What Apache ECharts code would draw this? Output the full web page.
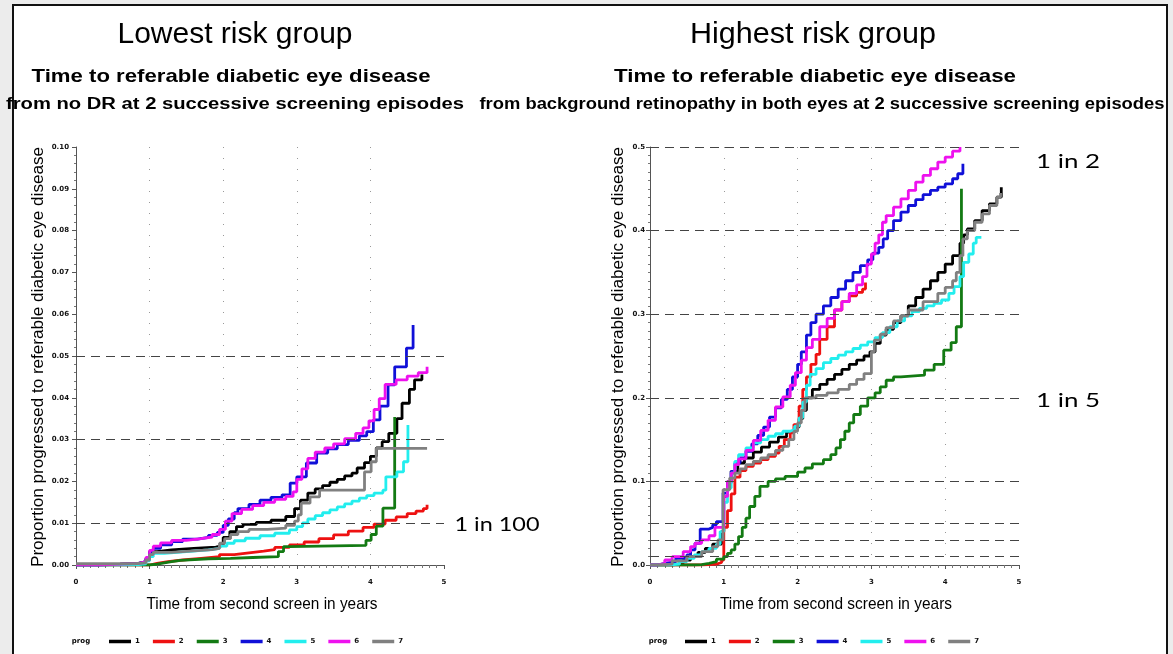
<!DOCTYPE html>
<html>
<head>
<meta charset="utf-8">
<title>Time to referable diabetic eye disease</title>
<script src="https://cdn.jsdelivr.net/npm/echarts@6/dist/echarts.min.js"></script>
<style>
  html, body { margin: 0; padding: 0; background: #ececec; }
  #main { width: 1173px; height: 654px; }
</style>
</head>
<body>
<div id="main"></div>
<script>
// ---- data (time in years, cumulative proportion) ----
var progNames = ['1', '2', '3', '4', '5', '6', '7'];
var progColors = ['#000000', '#ee1111', '#137a13', '#1010d8', '#22eeee', '#ee11ee', '#808080'];

// lowest risk group (no DR at 2 screens)
var low1 = [[0,0],[0.3,0.0002],[0.6,0.0004],[0.85,0.0008],[0.95,0.0015],[1.0,0.0032],[1.1,0.0036],[1.3,0.004],[1.6,0.0043],[1.9,0.0047],[2.0,0.0066],[2.09,0.008],[2.18,0.0092],[2.27,0.0097],[2.45,0.0102],[2.65,0.0107],[2.85,0.0116],[2.97,0.0135],[3.05,0.0155],[3.15,0.0172],[3.25,0.0182],[3.35,0.019],[3.45,0.0198],[3.55,0.0205],[3.65,0.0213],[3.75,0.022],[3.82,0.0232],[3.92,0.0245],[4.0,0.026],[4.08,0.028],[4.16,0.0295],[4.25,0.0315],[4.36,0.035],[4.43,0.0387],[4.53,0.042],[4.6,0.0443],[4.7,0.0456]];
var low2 = [[0,0],[1.0,0.0004],[1.1,0.0008],[1.25,0.0012],[1.45,0.0016],[1.7,0.002],[1.95,0.0025],[2.15,0.0029],[2.35,0.0033],[2.55,0.0037],[2.7,0.0042],[2.9,0.0048],[3.1,0.0055],[3.3,0.0063],[3.5,0.0072],[3.7,0.0081],[3.9,0.009],[4.05,0.0098],[4.2,0.0107],[4.35,0.0115],[4.5,0.0123],[4.62,0.0129],[4.72,0.0135],[4.77,0.0144]];
var low3 = [[0,0],[1.0,0.0002],[1.1,0.0005],[1.2,0.0008],[1.3,0.0011],[1.42,0.0015],[1.8,0.0016],[2.1,0.0018],[2.4,0.002],[2.75,0.0032],[2.82,0.0044],[2.9,0.0047],[3.94,0.0059],[4.01,0.0073],[4.08,0.0093],[4.17,0.0136],[4.33,0.0354]];
var low4 = [[0,0],[0.3,0.0002],[0.6,0.0004],[0.85,0.0008],[0.95,0.0015],[1.0,0.003],[1.05,0.004],[1.15,0.0048],[1.3,0.0056],[1.45,0.0062],[1.65,0.0066],[1.8,0.0071],[1.92,0.0078],[2.0,0.0095],[2.07,0.011],[2.15,0.0125],[2.2,0.0135],[2.35,0.0145],[2.5,0.0155],[2.65,0.0162],[2.8,0.0168],[2.91,0.0196],[3.0,0.0211],[3.13,0.0244],[3.27,0.0268],[3.42,0.0278],[3.55,0.0288],[3.7,0.0298],[3.85,0.0309],[3.95,0.0319],[4.04,0.0347],[4.13,0.038],[4.24,0.0431],[4.33,0.0474],[4.49,0.0519],[4.58,0.0574]];
var low5 = [[0,0],[0.5,0.0001],[0.85,0.0003],[0.95,0.001],[1.0,0.002],[1.05,0.0028],[1.2,0.0032],[1.5,0.0036],[1.8,0.004],[1.95,0.0045],[2.05,0.0052],[2.15,0.0058],[2.3,0.0064],[2.5,0.007],[2.7,0.0076],[2.9,0.0084],[3.0,0.0092],[3.08,0.0101],[3.15,0.011],[3.25,0.0118],[3.35,0.0125],[3.45,0.0132],[3.55,0.0139],[3.65,0.0146],[3.75,0.0153],[3.85,0.016],[3.95,0.0166],[4.05,0.0172],[4.17,0.0179],[4.21,0.0211],[4.36,0.0223],[4.45,0.0247],[4.51,0.0335]];
var low6 = [[0,0],[0.3,0.0002],[0.6,0.0004],[0.85,0.0008],[0.95,0.0018],[1.0,0.0035],[1.05,0.0045],[1.15,0.0053],[1.3,0.0059],[1.5,0.0063],[1.7,0.0067],[1.85,0.0073],[1.95,0.0085],[2.03,0.0105],[2.12,0.0123],[2.25,0.0133],[2.4,0.0142],[2.55,0.015],[2.7,0.0157],[2.85,0.0164],[2.95,0.0175],[3.0,0.0205],[3.07,0.023],[3.15,0.0255],[3.25,0.027],[3.38,0.028],[3.5,0.029],[3.65,0.0302],[3.8,0.0315],[3.9,0.0328],[3.98,0.0345],[4.05,0.0372],[4.12,0.0398],[4.2,0.0432],[4.35,0.0443],[4.5,0.0452],[4.65,0.046],[4.77,0.0474]];
var low7 = [[0,0.0003],[0.8,0.0005],[0.95,0.0012],[1.0,0.0025],[1.05,0.003],[1.3,0.0034],[1.6,0.0037],[1.85,0.004],[1.95,0.0052],[2.02,0.0063],[2.1,0.0073],[2.2,0.008],[2.35,0.0085],[2.6,0.0088],[2.85,0.0095],[2.97,0.0105],[3.02,0.012],[3.06,0.0148],[3.18,0.0163],[3.31,0.0179],[3.92,0.0223],[4.01,0.0247],[4.08,0.0279],[4.77,0.028]];

// highest risk group (background DR in both eyes at 2 screens)
var high1 = [[0,0],[0.3,0.002],[0.45,0.006],[0.55,0.01],[0.65,0.015],[0.75,0.02],[0.85,0.025],[0.97,0.04],[1.0,0.082],[1.05,0.1],[1.1,0.112],[1.19,0.122],[1.28,0.128],[1.4,0.135],[1.51,0.141],[1.62,0.147],[1.74,0.153],[1.85,0.159],[1.96,0.165],[2.02,0.175],[2.07,0.185],[2.12,0.2],[2.2,0.21],[2.3,0.216],[2.4,0.222],[2.5,0.228],[2.6,0.234],[2.7,0.24],[2.8,0.245],[2.9,0.25],[2.98,0.255],[3.05,0.265],[3.12,0.275],[3.2,0.282],[3.3,0.29],[3.4,0.298],[3.5,0.31],[3.6,0.32],[3.7,0.33],[3.8,0.34],[3.9,0.35],[4.0,0.36],[4.1,0.37],[4.2,0.385],[4.25,0.395],[4.3,0.402],[4.4,0.412],[4.5,0.424],[4.6,0.432],[4.7,0.44],[4.76,0.452]];
var high2 = [[0,0],[0.7,0.001],[0.9,0.003],[0.97,0.006],[1.0,0.045],[1.05,0.065],[1.1,0.085],[1.15,0.105],[1.22,0.113],[1.3,0.118],[1.4,0.122],[1.5,0.126],[1.6,0.13],[1.7,0.134],[1.75,0.142],[1.82,0.15],[1.9,0.158],[1.95,0.168],[2.02,0.19],[2.07,0.21],[2.12,0.225],[2.18,0.24],[2.25,0.252],[2.3,0.27],[2.4,0.285],[2.5,0.305],[2.6,0.315],[2.7,0.322],[2.8,0.326],[2.88,0.33],[2.92,0.338]];
var high3 = [[0,0],[0.6,0.0005],[0.7,0.002],[0.8,0.004],[0.9,0.007],[1.0,0.01],[1.05,0.014],[1.1,0.018],[1.15,0.025],[1.2,0.034],[1.25,0.045],[1.3,0.056],[1.35,0.07],[1.42,0.082],[1.49,0.094],[1.6,0.1],[1.7,0.103],[1.83,0.106],[2.0,0.111],[2.1,0.116],[2.2,0.121],[2.35,0.126],[2.45,0.132],[2.52,0.14],[2.58,0.15],[2.64,0.16],[2.7,0.17],[2.76,0.18],[2.85,0.19],[2.95,0.2],[3.05,0.206],[3.12,0.213],[3.2,0.221],[3.3,0.225],[3.4,0.227],[3.72,0.233],[3.85,0.24],[3.98,0.257],[4.08,0.266],[4.15,0.285],[4.22,0.45]];
var high4 = [[0,0],[0.1,0.002],[0.2,0.004],[0.35,0.008],[0.5,0.012],[0.55,0.018],[0.61,0.026],[0.68,0.043],[0.8,0.045],[0.85,0.048],[0.9,0.052],[0.99,0.086],[1.05,0.098],[1.1,0.112],[1.15,0.122],[1.22,0.128],[1.3,0.136],[1.38,0.145],[1.46,0.155],[1.54,0.165],[1.62,0.177],[1.7,0.188],[1.78,0.198],[1.86,0.21],[1.93,0.225],[2.0,0.24],[2.05,0.255],[2.12,0.275],[2.18,0.29],[2.25,0.3],[2.35,0.31],[2.45,0.32],[2.55,0.33],[2.65,0.34],[2.75,0.35],[2.85,0.358],[2.95,0.365],[3.02,0.373],[3.1,0.38],[3.16,0.39],[3.22,0.4],[3.3,0.412],[3.4,0.422],[3.5,0.43],[3.6,0.437],[3.7,0.443],[3.8,0.448],[3.9,0.452],[4.0,0.456],[4.1,0.462],[4.17,0.468],[4.24,0.48]];
var high5 = [[0,0],[0.25,0.001],[0.4,0.004],[0.5,0.008],[0.6,0.012],[0.7,0.016],[0.8,0.02],[0.9,0.025],[0.95,0.04],[1.0,0.075],[1.05,0.092],[1.1,0.11],[1.15,0.124],[1.2,0.132],[1.3,0.14],[1.4,0.146],[1.5,0.15],[1.6,0.154],[1.7,0.157],[1.8,0.16],[1.9,0.162],[1.96,0.166],[2.02,0.176],[2.07,0.195],[2.12,0.215],[2.17,0.228],[2.25,0.235],[2.35,0.242],[2.45,0.247],[2.55,0.251],[2.65,0.255],[2.75,0.259],[2.85,0.263],[2.95,0.267],[3.05,0.272],[3.15,0.278],[3.25,0.285],[3.35,0.292],[3.45,0.298],[3.55,0.303],[3.65,0.307],[3.75,0.31],[3.85,0.313],[3.95,0.317],[4.05,0.325],[4.12,0.333],[4.2,0.345],[4.25,0.362],[4.32,0.372],[4.38,0.385],[4.42,0.392],[4.49,0.392]];
var high6 = [[0,0],[0.1,0.002],[0.2,0.006],[0.3,0.01],[0.45,0.016],[0.55,0.022],[0.61,0.026],[0.7,0.03],[0.8,0.035],[0.88,0.045],[1.0,0.082],[1.05,0.1],[1.1,0.11],[1.15,0.12],[1.2,0.127],[1.3,0.137],[1.4,0.149],[1.5,0.161],[1.6,0.173],[1.7,0.189],[1.8,0.201],[1.9,0.215],[1.97,0.23],[2.05,0.245],[2.12,0.26],[2.2,0.27],[2.3,0.285],[2.4,0.295],[2.5,0.305],[2.6,0.315],[2.7,0.325],[2.8,0.335],[2.88,0.345],[2.94,0.36],[3.0,0.372],[3.05,0.385],[3.1,0.395],[3.15,0.41],[3.2,0.418],[3.3,0.428],[3.4,0.438],[3.5,0.448],[3.6,0.458],[3.7,0.466],[3.8,0.474],[3.9,0.482],[4.0,0.488],[4.1,0.495],[4.2,0.5]];
var high7 = [[0,0],[0.1,0.001],[0.3,0.005],[0.5,0.01],[0.7,0.016],[0.85,0.022],[0.92,0.03],[0.99,0.09],[1.08,0.104],[1.15,0.11],[1.22,0.115],[1.3,0.12],[1.4,0.124],[1.5,0.128],[1.6,0.132],[1.7,0.137],[1.8,0.142],[1.88,0.15],[1.95,0.16],[2.0,0.17],[2.05,0.185],[2.1,0.2],[2.25,0.203],[2.4,0.206],[2.55,0.21],[2.7,0.216],[2.8,0.222],[2.9,0.229],[3.0,0.255],[3.04,0.269],[3.12,0.276],[3.2,0.284],[3.3,0.292],[3.4,0.298],[3.5,0.305],[3.7,0.315],[3.9,0.325],[4.0,0.332],[4.1,0.34],[4.15,0.35],[4.2,0.37],[4.24,0.39],[4.3,0.4],[4.4,0.41],[4.5,0.42],[4.6,0.43],[4.7,0.44],[4.75,0.445]];

var lowSeries = [low1, low2, low3, low4, low5, low6, low7];
var highSeries = [high1, high2, high3, high4, high5, high6, high7];

// dashed reference lines
var lowRefLines = [0.05, 0.025, 0.01];
var highRefLines = [0.5, 0.4, 0.3, 0.2, 0.1, 0.05, 0.025, 0.01];

var xTicks = [0, 1, 2, 3, 4, 5];

var chart = echarts.init(document.getElementById('main'));

var measureCtx = document.createElement('canvas').getContext('2d');
function textWidth(text, font) {
    measureCtx.font = font;
    return measureCtx.measureText(text).width;
}

// text that is stretched to a given width (the scanned titles are wider than the font)
function fitText(text, font, cx, cy, width, rot) {
    return {
        type: 'text', x: cx, y: cy, rotation: rot || 0, silent: true,
        scaleX: width ? width / textWidth(text, font) : 1,
        style: { text: text, font: font, fill: '#000', align: 'center', verticalAlign: 'middle' }
    };
}

var tickFont = { fontSize: 7, fontWeight: 'bold', fontFamily: 'DejaVu Sans', color: '#111' };

function makeXAxis(gridIndex) {
    return {
        type: 'value', gridIndex: gridIndex, min: 0, max: 5, interval: 1, offset: 5,
        axisLine: { lineStyle: { color: '#555', width: 1 } },
        axisTick: { length: 4, lineStyle: { color: '#555' } },
        minorTick: { show: true, splitNumber: 10, length: 3, lineStyle: { color: '#777' } },
        axisLabel: Object.assign({ margin: 9, formatter: function (v) { return xTicks.indexOf(v) >= 0 ? String(v) : ''; } }, tickFont),
        splitLine: { show: true, showMinLine: false, showMaxLine: false, lineStyle: { type: [1, 10], color: '#999' } }
    };
}

function makeYAxis(gridIndex, max, step, digits, minorSplit, offset) {
    return {
        type: 'value', gridIndex: gridIndex, min: 0, max: max, interval: step, offset: offset,
        axisLine: { show: true, lineStyle: { color: '#555', width: 1 } },
        axisTick: { show: true, length: 4, lineStyle: { color: '#555' } },
        minorTick: { show: true, splitNumber: minorSplit, length: 2, lineStyle: { color: '#777' } },
        axisLabel: Object.assign({ margin: 4, formatter: function (v) { return v.toFixed(digits); } }, tickFont),
        splitLine: { show: false }
    };
}

function makeSeries(list, axisIndex, refLines) {
    return list.map(function (data, i) {
        var s = {
            name: progNames[i], type: 'line', step: 'end',
            xAxisIndex: axisIndex, yAxisIndex: axisIndex,
            showSymbol: false, symbol: 'none', color: progColors[i],
            lineStyle: { width: 2.8, color: progColors[i] },
            data: data
        };
        if (i === 0) {
            s.markLine = {
                silent: true, symbol: 'none', label: { show: false },
                lineStyle: { type: [9, 6], color: '#444', width: 1.2 },
                data: refLines.map(function (v) { return { yAxis: v }; })
            };
        }
        return s;
    });
}

function makeLegend(left) {
    return {
        data: progNames, left: left, top: 633, orient: 'horizontal',
        icon: 'rect', itemWidth: 22, itemHeight: 3.5, itemGap: 13,
        textStyle: { fontSize: 7, fontWeight: 'bold', fontFamily: 'DejaVu Sans', color: '#111', padding: [0, 0, 0, -1] },
        selectedMode: false
    };
}

var titleFont = '30px "Liberation Sans"';
var subFont = 'bold 19px "Liberation Sans"';
var fromFont = 'bold 16px "Liberation Sans"';
var axisTitleFont = '17px "Liberation Sans"';
var noteFont = '20px Lato';
var progFont = 'bold 7px "DejaVu Sans"';

var graphics = [
    { type: 'rect', z: -10, silent: true, shape: { x: 13, y: 5, width: 1154, height: 680 }, style: { fill: '#fff', stroke: '#111', lineWidth: 2 } },
    fitText('Lowest risk group', titleFont, 235, 34.5, 235),
    fitText('Time to referable diabetic eye disease', subFont, 231, 76.5, 399),
    fitText('from no DR at 2 successive screening episodes', fromFont, 235, 104.5, 458),
    fitText('Highest risk group', titleFont, 813, 34.5, 246),
    fitText('Time to referable diabetic eye disease', subFont, 815, 76.5, 402),
    fitText('from background retinopathy in both eyes at 2 successive screening episodes', fromFont, 822, 104.5, 685),
    fitText('Time from second screen in years', axisTitleFont, 262, 604, 231),
    fitText('Time from second screen in years', axisTitleFont, 836, 604, 232),
    fitText('Proportion progressed to referable diabetic eye disease', axisTitleFont, 38.5, 357, 420, Math.PI / 2),
    fitText('Proportion progressed to referable diabetic eye disease', axisTitleFont, 618, 357, 420, Math.PI / 2),
    fitText('prog', progFont, 81, 641, 0),
    fitText('prog', progFont, 658, 641, 0),
    fitText('1 in 100', noteFont, 497, 525, 85),
    fitText('1 in 2', noteFont, 1068, 162, 64),
    fitText('1 in 5', noteFont, 1068, 401, 64)
];

chart.setOption({
    animation: false,
    backgroundColor: '#ececec',
    grid: [
        { left: 76, right: 1173 - 444, top: 147, bottom: 654 - 565 },
        { left: 650, right: 1173 - 1019, top: 147, bottom: 654 - 565 }
    ],
    xAxis: [makeXAxis(0), makeXAxis(1)],
    yAxis: [makeYAxis(0, 0.1, 0.01, 2, 5, 3), makeYAxis(1, 0.5, 0.1, 1, 10, 1)],
    legend: [makeLegend(104), makeLegend(680)],
    series: makeSeries(lowSeries, 0, lowRefLines).concat(makeSeries(highSeries, 1, highRefLines)),
    graphic: graphics
});
</script>
</body>
</html>
